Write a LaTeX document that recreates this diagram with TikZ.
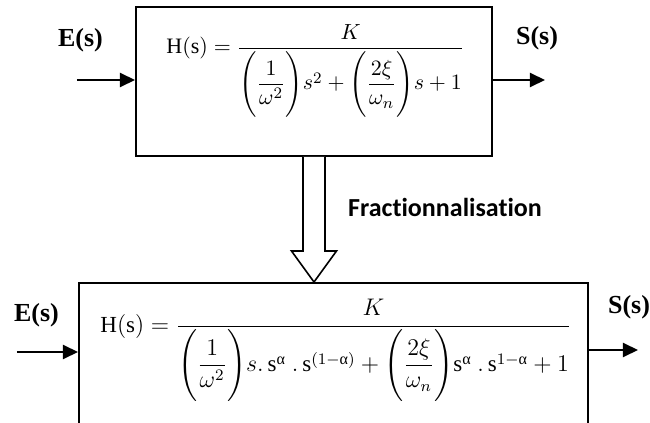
\documentclass[tikz,border=0pt]{standalone}
\usepackage{amsmath}
\usepackage{fontspec}
\setmainfont{Liberation Serif}
\newfontfamily\labelfont[Ligatures=NoCommon]{Carlito}
\usetikzlibrary{calc,positioning,arrows.meta}

\begin{document}
\begin{tikzpicture}[
    x=0.5pt, y=-0.5pt,
    every node/.style={font=\fontsize{11.5}{14}\selectfont},
    blk/.style={rectangle, draw=black, line width=1pt, inner sep=0pt},
    sig/.style={draw=black, line width=1pt, -{Triangle[length=7.5pt,width=7pt]}},
    io/.style={font=\fontsize{13}{15}\selectfont\bfseries},
    tf/.style={inner sep=0pt, anchor=base west},
    hollow/.style={draw=black, line width=0.8pt, fill=white},
]
    \useasboundingbox (0,0) rectangle (650,423);
    \clip (0,0) rectangle (650,423);

    % Blocks
    \node[blk, minimum width=178pt, minimum height=74.5pt] (hsys) at (314,81.5) {};
    \node[blk, minimum width=254.5pt, minimum height=100pt] (hfrac) at (333.5,383) {};

    % Transfer functions
    \node[tf, font=\fontsize{11}{13}\selectfont] (ftop) at (166,54)
        {$\mathrm{H(s)} = \dfrac{K}{\Biggl(\dfrac{1}{\omega^2}\Biggr)s^2+\Biggl(\dfrac{2\xi}{\omega_n}\Biggr)s+1}$};
    \node[tf] (fbot) at (100,332)
        {$\mathrm{H(s)} = \dfrac{K}{\Biggl(\dfrac{1}{\omega^2}\Biggr)s.\,\mathrm{s}^{\text{α}}\ .\,\mathrm{s}^{(1-\text{α})}+\Biggl(\dfrac{2\xi}{\omega_n}\Biggr)\mathrm{s}^{\text{α}}\ .\,\mathrm{s}^{1-\text{α}}+1}$};

    % Inputs and outputs
    \node[io] (e1) at (80.5,40)  {E(s)};
    \node[io] (s1) at (537,38)   {S(s)};
    \node[io] (e2) at (36.5,315) {E(s)};
    \node[io] (s2) at (629,307)  {S(s)};

    \coordinate (in1)  at (77,80);
    \coordinate (out1) at (545,80);
    \coordinate (in2)  at (17,352);
    \coordinate (out2) at (638,350);

    \draw[sig] (in1) -- (in1 -| hsys.west);
    \draw[sig] (out1 -| hsys.east) -- (out1);
    \draw[sig] (in2) -- (in2 -| hfrac.west);
    \draw[sig] (out2 -| hfrac.east) -- (out2);

    % Hollow arrow between the blocks
    \coordinate (tip) at (hsys.south |- hfrac.north);
    \draw[hollow] ($(hsys.south)+(-11,0)$) -- ($(tip)+(-11,-31)$)
        -- ($(tip)+(-22.5,-31)$) -- (tip) -- ($(tip)+(22.5,-31)$)
        -- ($(tip)+(11,-31)$) -- ($(hsys.south)+(11,0)$);
    \node[font=\fontsize{13}{15}\selectfont\labelfont\bfseries] (frac) at (445,207)
        {Fractionnalisation};
\end{tikzpicture}
\end{document}
